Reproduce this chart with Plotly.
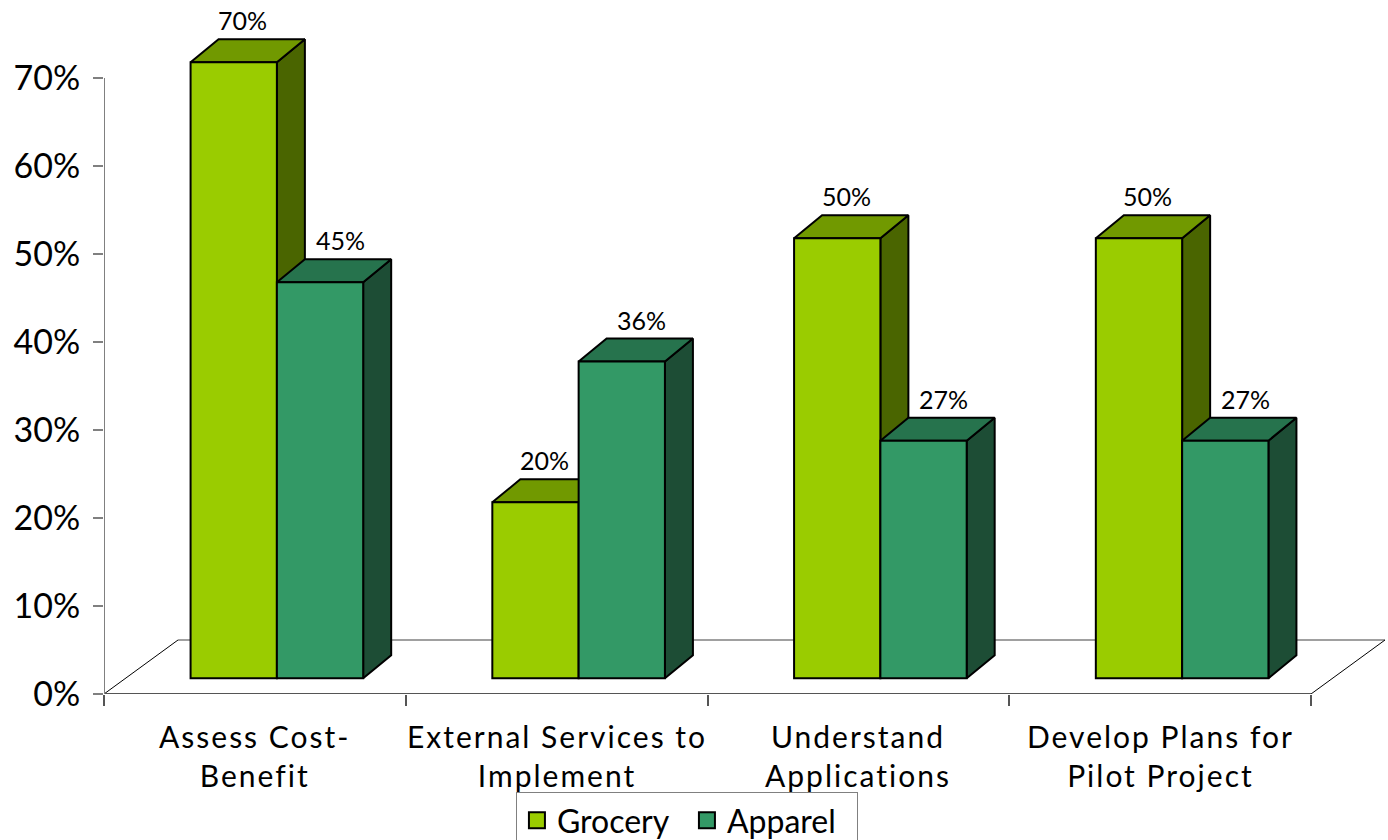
import plotly.graph_objects as go

# ---- data -------------------------------------------------------------
categories = [
    "Assess Cost-<br>Benefit",
    "External Services to<br>Implement",
    "Understand<br>Applications",
    "Develop Plans for<br>Pilot Project",
]
grocery = [0.70, 0.20, 0.50, 0.50]
apparel = [0.45, 0.36, 0.27, 0.27]
y_ticks = [0.0, 0.1, 0.2, 0.3, 0.4, 0.5, 0.6, 0.7]
y_tick_labels = ["0%", "10%", "20%", "30%", "40%", "50%", "60%", "70%"]

# ---- geometry of the pseudo-3D look (axis units) -----------------------
PX_X = 301.75          # pixels per category
PX_Y = 880.0           # pixels per 1.0 (100%)
SHIFT_X = 22.0 / PX_X  # bars sit a little behind the axis plane
SHIFT_Y = 15.7 / PX_Y
BAR_W = 86.3 / PX_X
DEPTH_X = 28.0 / PX_X  # bar depth
DEPTH_Y = 23.0 / PX_Y
FLOOR_X = 74.0 / PX_X  # floor depth
FLOOR_Y = 54.0 / PX_Y

FONT = "Lato"
series = [
    dict(name="Grocery", values=grocery, offset=-BAR_W,
         front="#9ACC00", top="#719900", side="#4A6500", label_dx=9),
    dict(name="Apparel", values=apparel, offset=0.0,
         front="#339966", top="#26734D", side="#1D4D35", label_dx=20),
]

idx = list(range(len(categories)))
fig = go.Figure()

z = 1
for s in series:
    tops_x, tops_y, sides_x, sides_y = [], [], [], []
    for i, v in zip(idx, s["values"]):
        x0 = i + SHIFT_X + s["offset"]
        x1 = x0 + BAR_W
        yt = v + SHIFT_Y
        tops_x += [x0, x1, x1 + DEPTH_X, x0 + DEPTH_X, x0, None]
        tops_y += [yt, yt, yt + DEPTH_Y, yt + DEPTH_Y, yt, None]
        sides_x += [x1, x1, x1 + DEPTH_X, x1 + DEPTH_X, x1, None]
        sides_y += [SHIFT_Y, yt, yt + DEPTH_Y, SHIFT_Y + DEPTH_Y, SHIFT_Y, None]
    fig.add_trace(go.Scatter(x=sides_x, y=sides_y, mode="lines", fill="toself",
                             fillcolor=s["side"], line=dict(color="black", width=2),
                             showlegend=False, hoverinfo="skip", zorder=z))
    fig.add_trace(go.Scatter(x=tops_x, y=tops_y, mode="lines", fill="toself",
                             fillcolor=s["top"], line=dict(color="black", width=2),
                             showlegend=False, hoverinfo="skip", zorder=z))
    fig.add_trace(go.Bar(x=idx, y=s["values"], base=SHIFT_Y,
                         offset=SHIFT_X + s["offset"], width=BAR_W,
                         marker=dict(color=s["front"], line=dict(color="black", width=2)),
                         showlegend=False, hoverinfo="skip", zorder=z + 1))
    # legend swatch
    fig.add_trace(go.Scatter(x=[None], y=[None], mode="markers", name=s["name"],
                             marker=dict(symbol="square", size=18, color=s["front"],
                                         line=dict(color="black", width=2))))
    for i, v in zip(idx, s["values"]):
        fig.add_annotation(x=i + SHIFT_X + s["offset"] + BAR_W / 2,
                           y=v + SHIFT_Y + DEPTH_Y, text=f"{v:.0%}",
                           xshift=s["label_dx"], yshift=2, yanchor="bottom",
                           showarrow=False, font=dict(family=FONT, size=25, color="black"))
    z += 2

# category labels under the axis
for i, c in zip(idx, categories):
    fig.add_annotation(x=i, y=0, yref="y",
                       text=f'<span style="letter-spacing:2px">{c}</span>',
                       yanchor="top", yshift=-22,
                       showarrow=False, font=dict(family=FONT, size=30, color="black"))

x_lo, x_hi = -0.5, len(categories) - 0.5
shapes = [
    # floor
    dict(type="line", x0=x_lo + FLOOR_X, y0=FLOOR_Y, x1=x_hi + FLOOR_X, y1=FLOOR_Y,
         line=dict(color="#808080", width=1.5), layer="below"),
    dict(type="line", x0=x_lo, y0=0, x1=x_lo + FLOOR_X, y1=FLOOR_Y,
         line=dict(color="black", width=1), layer="below"),
    dict(type="line", x0=x_hi, y0=0, x1=x_hi + FLOOR_X, y1=FLOOR_Y,
         line=dict(color="black", width=1), layer="below"),
    # axis lines
    dict(type="line", x0=x_lo, y0=0, x1=x_hi, y1=0,
         line=dict(color="#555555", width=2), layer="below"),
    dict(type="line", x0=x_lo, y0=0, x1=x_lo, y1=y_ticks[-1],
         line=dict(color="#808080", width=2), layer="below"),
]

fig.update_layout(
    width=1388, height=840,
    margin=dict(l=104, r=0, t=0, b=146, autoexpand=False),
    paper_bgcolor="white", plot_bgcolor="white",
    barmode="overlay",
    shapes=shapes,
    showlegend=True,
    legend=dict(orientation="h", x=0.454, xanchor="center", y=-0.1412, yanchor="top",
                bordercolor="#808080", borderwidth=1, tracegroupgap=0,
                entrywidth=125, entrywidthmode="pixels",
                font=dict(family=FONT, size=32, color="black"), itemwidth=30),
    xaxis=dict(range=[x_lo, x_lo + 1284 / PX_X], showgrid=False, zeroline=False,
               showline=False, tickvals=[k - 0.5 for k in range(len(categories) + 1)],
               ticktext=[""] * (len(categories) + 1), ticks="outside", ticklen=11,
               tickwidth=2, tickcolor="#555555", fixedrange=True),
    yaxis=dict(range=[0, 694 / PX_Y], showgrid=False, zeroline=False, showline=False,
               tickvals=y_ticks, ticktext=y_tick_labels, ticks="outside", ticklen=10,
               tickwidth=2, tickcolor="#808080", ticklabelstandoff=6,
               tickfont=dict(family=FONT, size=34, color="black"), fixedrange=True),
)

fig.write_html("out.html")
